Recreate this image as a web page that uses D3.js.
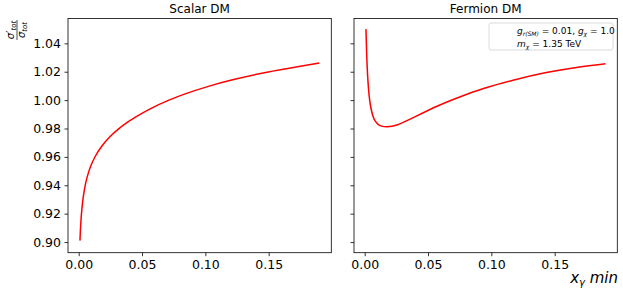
<!DOCTYPE html>
<html>
<head>
<meta charset="utf-8">
<script src="https://cdn.jsdelivr.net/npm/d3@7"></script>
<style>
  body { margin: 0; background: #fff; }
  text { font-family: "DejaVu Sans", sans-serif; }
</style>
</head>
<body>
<div id="viz"></div>
<script>
const width = 623, height = 295;

// x values (x_gamma min) and ratio
const scalarX = [0.001, 0.0016, 0.0025, 0.0037, 0.0055, 0.0077, 0.0100, 0.0129, 0.0182, 0.0250, 0.0313, 0.0380, 0.0445, 0.0576, 0.0708, 0.0840, 0.1024, 0.1223, 0.1487, 0.1750, 0.1900];
const scalarY = [0.9010, 0.9125, 0.9232, 0.9324, 0.9415, 0.9489, 0.9546, 0.9601, 0.9675, 0.9745, 0.9796, 0.9841, 0.9879, 0.9944, 0.9998, 1.0044, 1.0097, 1.0145, 1.0197, 1.0239, 1.0261];

const fermionX = [0.001, 0.0016, 0.0024, 0.0034, 0.0047, 0.0063, 0.0081, 0.0108, 0.0140, 0.0176, 0.0255, 0.0387, 0.0571, 0.0755, 0.0939, 0.1171, 0.1434, 0.1697, 0.1902];
const fermionY = [1.0500, 1.0310, 1.0160, 1.0040, 0.9955, 0.9893, 0.9855, 0.9828, 0.9815, 0.9812, 0.9825, 0.9878, 0.9957, 1.0024, 1.0082, 1.0140, 1.0194, 1.0234, 1.0257];

const xTicks = [0.00, 0.05, 0.10, 0.15];
const yTicks = [0.90, 0.92, 0.94, 0.96, 0.98, 1.00, 1.02, 1.04];
const titles = ["Scalar DM", "Fermion DM"];

const svg = d3.select("#viz").append("svg")
  .attr("width", width)
  .attr("height", height);

const plotTop = 18.5, plotBottom = 252.7;
const panels = [
  { left: 68, right: 331.3, xs: scalarX, ys: scalarY, labels: true },
  { left: 354, right: 617.3, xs: fermionX, ys: fermionY, labels: false }
];

const y = d3.scaleLinear().domain([0.8925, 1.0575]).range([plotBottom, plotTop]);

panels.forEach((p, i) => {
  const x = d3.scaleLinear().domain([-0.00845, 0.19945]).range([p.left, p.right]);
  const g = svg.append("g");

  // curve
  const pts = p.xs.map((v, k) => [v, p.ys[k]]);
  g.append("path")
    .datum(pts)
    .attr("fill", "none")
    .attr("stroke", "#ff0000")
    .attr("stroke-width", 1.5)
    .attr("d", d3.line().x(d => x(d[0])).y(d => y(d[1])).curve(d3.curveNatural));

  // axes
  const ax = g.append("g")
    .attr("transform", `translate(0,${plotBottom})`)
    .call(d3.axisBottom(x).tickValues(xTicks).tickFormat(d3.format(".2f")).tickSize(3.5).tickPadding(3.5));
  const ay = g.append("g")
    .attr("transform", `translate(${p.left},0)`)
    .call(d3.axisLeft(y).tickValues(yTicks).tickFormat(p.labels ? d3.format(".2f") : "").tickSize(3.5).tickPadding(3.5));
  [ax, ay].forEach(a => {
    a.select(".domain").remove();
    a.selectAll("line").attr("stroke", "#000").attr("stroke-width", 0.8);
    a.selectAll("text").attr("font-size", 12.5).attr("fill", "#000")
      .attr("font-family", "DejaVu Sans");
  });

  // frame
  g.append("rect")
    .attr("x", p.left).attr("y", plotTop)
    .attr("width", p.right - p.left).attr("height", plotBottom - plotTop)
    .attr("fill", "none").attr("stroke", "#000").attr("stroke-width", 0.8);

  g.append("text")
    .attr("x", (p.left + p.right) / 2).attr("y", 13)
    .attr("text-anchor", "middle").attr("font-size", 12)
    .text(titles[i]);
});

// legend box (right panel)
const leg = svg.append("g");
leg.append("rect")
  .attr("x", 489).attr("y", 23).attr("width", 124).attr("height", 27)
  .attr("rx", 2).attr("fill", "#fff").attr("stroke", "#d0d0d0").attr("stroke-width", 0.8);
const l1 = leg.append("text").attr("x", 517).attr("y", 34).attr("font-size", 9);
l1.append("tspan").attr("font-style", "italic").text("g");
l1.append("tspan").attr("font-style", "italic").attr("font-size", 6).attr("dy", 2).text("r(SM)");
l1.append("tspan").attr("dy", -2).text(" = 0.01, ");
l1.append("tspan").attr("font-style", "italic").text("g");
l1.append("tspan").attr("font-style", "italic").attr("font-size", 6).attr("dy", 2).text("χ");
l1.append("tspan").attr("dy", -2).text(" = 1.0");
const l2 = leg.append("text").attr("x", 517).attr("y", 46.5).attr("font-size", 9);
l2.append("tspan").attr("font-style", "italic").text("m");
l2.append("tspan").attr("font-style", "italic").attr("font-size", 6).attr("dy", 2).text("χ");
l2.append("tspan").attr("dy", -2).text(" = 1.35 TeV");

// y label: sigma'_tot / sigma_tot
const yl = svg.append("g").attr("transform", "translate(17,30) rotate(-90)");
const num = yl.append("text").attr("x", 0).attr("y", -3).attr("text-anchor", "middle").attr("font-size", 10);
num.append("tspan").attr("font-style", "italic").text("σ′");
num.append("tspan").attr("font-style", "italic").attr("font-size", 7).attr("dy", 2).text("tot");
yl.append("line").attr("x1", -10).attr("x2", 10).attr("y1", 0).attr("y2", 0)
  .attr("stroke", "#000").attr("stroke-width", 0.7);
const den = yl.append("text").attr("x", 0).attr("y", 8).attr("text-anchor", "middle").attr("font-size", 10);
den.append("tspan").attr("font-style", "italic").text("σ");
den.append("tspan").attr("font-style", "italic").attr("font-size", 7).attr("dy", 2).text("tot");

// x label
const xl = svg.append("text").attr("x", 618).attr("y", 283)
  .attr("text-anchor", "end").attr("font-size", 15).attr("font-style", "italic");
xl.append("tspan").text("x");
xl.append("tspan").attr("font-size", 10).attr("dy", 3).text("γ");
xl.append("tspan").attr("dy", -3).text(" min");
</script>
</body>
</html>
